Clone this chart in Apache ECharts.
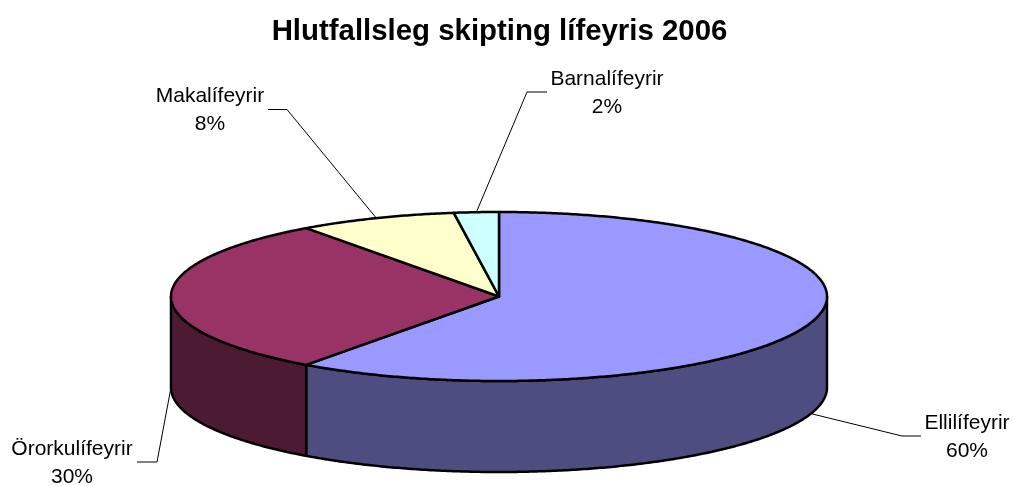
<!DOCTYPE html>
<html>
<head>
<meta charset="utf-8">
<style>
  html, body { margin: 0; padding: 0; background: #fff; }
  #chart { width: 1013px; height: 486px; }
</style>
<script src="https://cdn.jsdelivr.net/npm/echarts@6/dist/echarts.min.js"></script>
</head>
<body>
<div id="chart"></div>
<script>
// data (labels show them rounded)
var categories = ['Ellilífeyrir', 'Örorkulífeyrir', 'Makalífeyrir', 'Barnalífeyrir'];
var shares = [60, 30, 7.8, 2.2];

// colours, top face and side face
var topColors = ['#9999ff', '#993366', '#ffffcc', '#ccffff'];
var sideColors = ['#4d4d80', '#4d1a33', '#808066', '#668080'];

// pie geometry
var cx = 499, cy = 296.5, rx = 328, ry = 84.5, depth = 91;

// label centre and leader elbow, per slice
var labelPos = [[967, 422], [72, 448], [210, 95], [607, 78]];
var leaderStart = [[921, 436], [137, 462], [268, 109.5], [547, 92]];
var leaderElbow = [[902, 436], [157, 462], [287, 109.5], [527, 92]];

var total = shares.reduce(function (a, b) { return a + b; }, 0);

function pt(deg, dy) {
  var t = deg * Math.PI / 180;
  return [cx + rx * Math.sin(t), cy - ry * Math.cos(t) + (dy || 0)];
}

function arc(from, to, dy) {
  var pts = [];
  var n = Math.max(2, Math.ceil(Math.abs(to - from) * 2));
  for (var i = 0; i <= n; i++) {
    pts.push(pt(from + (to - from) * i / n, dy));
  }
  return pts;
}

function renderSlice(params, api) {
  var i = params.dataIndex;
  var before = 0;
  for (var k = 0; k < i; k++) { before += shares[k]; }
  var a0 = before / total * 360;
  var a1 = (before + api.value(0)) / total * 360;
  var mid = (a0 + a1) / 2;
  var children = [];

  // side wall, only the part facing the viewer (90-270 deg)
  var s0 = Math.max(a0, 90), s1 = Math.min(a1, 270);
  if (s1 > s0) {
    children.push({
      type: 'polygon',
      z2: 1,
      shape: { points: arc(s0, s1, 0).concat(arc(s1, s0, depth)) },
      style: { fill: sideColors[i], stroke: '#000', lineWidth: 2.5, lineJoin: 'round' }
    });
  }

  // top face
  children.push({
    type: 'polygon',
    z2: 2,
    shape: { points: [[cx, cy]].concat(arc(a0, a1, 0)) },
    style: { fill: topColors[i], stroke: '#000', lineWidth: 2.5, lineJoin: 'round' }
  });

  // leader line goes to the middle of the slice edge
  var front = mid >= 90 && mid <= 270;
  children.push({
    type: 'polyline',
    z2: 3,
    shape: { points: [leaderStart[i], leaderElbow[i], pt(mid, front ? depth : 0)] },
    style: { fill: null, stroke: '#000', lineWidth: 1 }
  });

  // two lines, y is the centre of the first one
  children.push({
    type: 'text',
    z2: 4,
    style: {
      x: labelPos[i][0],
      y: labelPos[i][1] + 15,
      text: categories[i] + '\n' + Math.round(api.value(0)) + '%',
      align: 'center',
      verticalAlign: 'middle',
      fill: '#000',
      font: '21px "Liberation Sans", Arial, sans-serif',
      lineHeight: 28
    }
  });

  return { type: 'group', children: children };
}

var chart = echarts.init(document.getElementById('chart'), null, { renderer: 'canvas' });
chart.setOption({
  backgroundColor: '#fff',
  animation: false,
  title: {
    text: 'Hlutfallsleg skipting lífeyris 2006',
    left: 494.5,
    top: 12,
    textAlign: 'center',
    textStyle: {
      fontFamily: '"Liberation Sans", Arial, sans-serif',
      fontSize: 29.4,
      fontWeight: 'bold',
      color: '#000'
    }
  },
  series: [{
    type: 'custom',
    coordinateSystem: 'none',
    silent: true,
    renderItem: renderSlice,
    data: shares.map(function (v) { return [v]; })
  }]
});
</script>
</body>
</html>
